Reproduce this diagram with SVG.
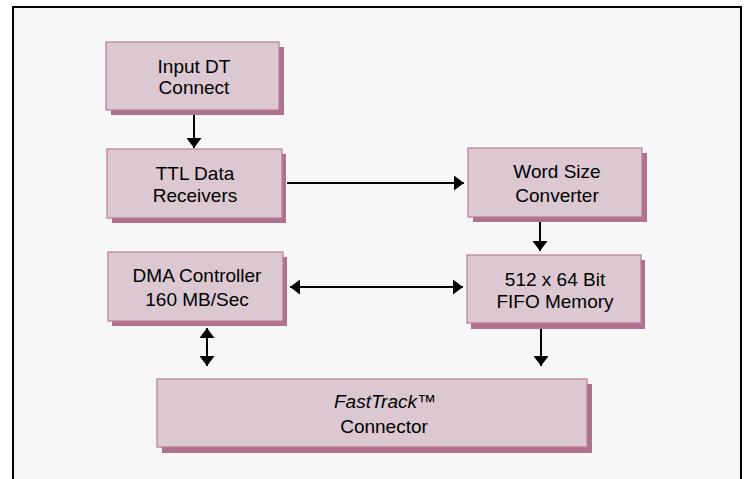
<svg xmlns="http://www.w3.org/2000/svg" width="750" height="479" viewBox="0 0 750 479">
<style>
.box{fill:#dcc8d0;stroke:#b97c98;stroke-width:1.2}
.sh{fill:#b07090}
.t{font-family:"Liberation Sans",Arial,sans-serif;font-size:19px;fill:#000;text-anchor:middle}
.c{stroke:#000;stroke-width:2;fill:none}
</style>
<defs>
<marker id="ah" viewBox="0 0 10 15" refX="10" refY="7.5" markerWidth="10" markerHeight="15" markerUnits="userSpaceOnUse" orient="auto-start-reverse">
<path d="M0,0 L10,7.5 L0,15 z" fill="#000"/>
</marker>
</defs>
<rect x="0" y="0" width="750" height="479" fill="#fff"/>
<rect x="13" y="7" width="728" height="480" fill="#f7f7f7" stroke="#000" stroke-width="2"/>
<g id="input">
<rect class="sh" x="111" y="47" width="173" height="68"/>
<rect class="box" x="106" y="42" width="173" height="68"/>
<text class="t" x="194" y="73">Input DT</text>
<text class="t" x="194" y="94">Connect</text>
</g>
<g id="ttl">
<rect class="sh" x="112" y="154" width="174" height="69"/>
<rect class="box" x="107" y="149" width="175" height="69"/>
<text class="t" x="195" y="180">TTL Data</text>
<text class="t" x="195" y="202">Receivers</text>
</g>
<g id="word">
<rect class="sh" x="473" y="153" width="174" height="69"/>
<rect class="box" x="468" y="148" width="174" height="69"/>
<text class="t" x="557" y="178">Word Size</text>
<text class="t" x="557" y="202">Converter</text>
</g>
<g id="dma">
<rect class="sh" x="112" y="257" width="175" height="69"/>
<rect class="box" x="108" y="252" width="175" height="69"/>
<text class="t" x="197" y="282">DMA Controller</text>
<text class="t" x="197" y="306">160 MB/Sec</text>
</g>
<g id="fifo">
<rect class="sh" x="471" y="260" width="174" height="69"/>
<rect class="box" x="467" y="255" width="174" height="68"/>
<text class="t" x="555" y="286">512 x 64 Bit</text>
<text class="t" x="555" y="308">FIFO Memory</text>
</g>
<g id="fasttrack">
<rect class="sh" x="162" y="384" width="430" height="69"/>
<rect class="box" x="157" y="379" width="430" height="68"/>
<text class="t" x="385" y="408" font-style="italic">FastTrack™</text>
<text class="t" x="384" y="433">Connector</text>
</g>
<g id="connectors">
<path class="c" d="M194,115 V148" marker-end="url(#ah)"/>
<path class="c" d="M287,183 H464" marker-end="url(#ah)"/>
<path class="c" d="M540,222 V251" marker-end="url(#ah)"/>
<path class="c" d="M290,287 H463" marker-start="url(#ah)" marker-end="url(#ah)"/>
<path class="c" d="M207,328 V366" marker-start="url(#ah)" marker-end="url(#ah)"/>
<path class="c" d="M541,329 V366" marker-end="url(#ah)"/>
</g>
</svg>
